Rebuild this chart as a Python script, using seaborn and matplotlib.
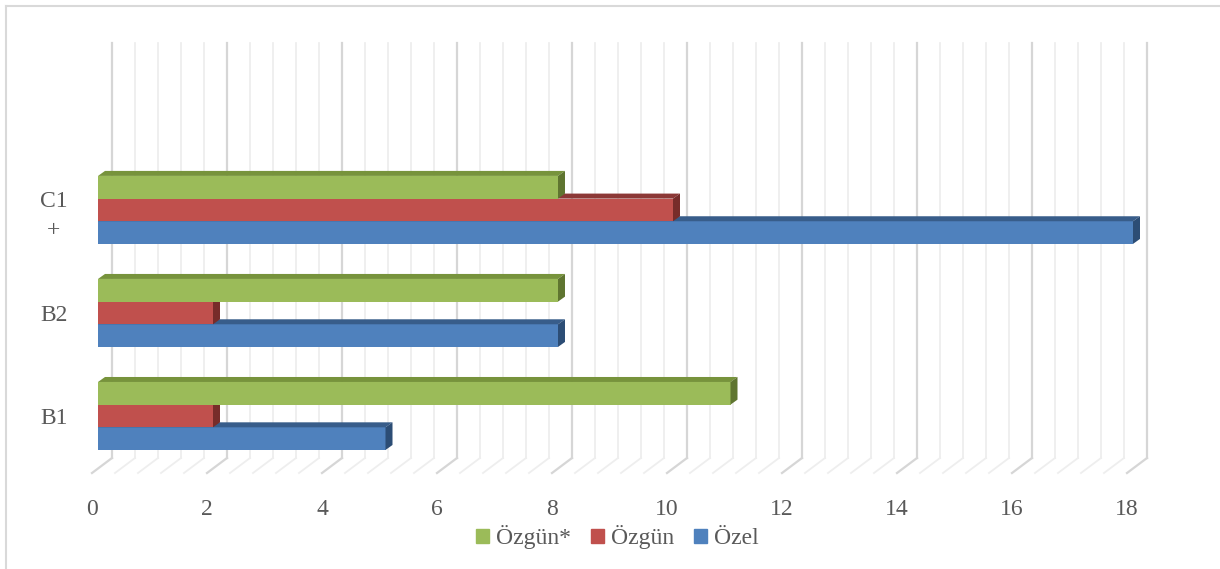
import numpy as np
import pandas as pd
import matplotlib
matplotlib.use("Agg")
import matplotlib.pyplot as plt
import seaborn as sns
from matplotlib.patches import Polygon
from matplotlib.lines import Line2D
import matplotlib.transforms as mtransforms

# data
levels = ["C1\n+", "B2", "B1"]
series = ["Özgün*", "Özgün", "Özel"]
ozgun_star = [8, 8, 11]
ozgun = [10, 2, 2]
ozel = [18, 8, 5]
xticks = [0, 2, 4, 6, 8, 10, 12, 14, 16, 18]

colors = {"Özgün*": "#9bbb59", "Özgün": "#c0504d", "Özel": "#4f81bd"}
top_shade = {"Özgün*": "#77933c", "Özgün": "#8c3836", "Özel": "#385d8a"}
side_shade = {"Özgün*": "#5f7530", "Özgün": "#772c2a", "Özel": "#2c4d75"}
layer = {"Özgün*": 4, "Özgün": 3, "Özel": 2}

df = pd.DataFrame({
    "level": levels * 3,
    "series": [series[0]] * 3 + [series[1]] * 3 + [series[2]] * 3,
    "value": ozgun_star + ozgun + ozel,
})

plt.rcParams["font.family"] = ["Liberation Serif", "DejaVu Serif"]
text_color = "#595959"

W, H = 1220, 569
fig = plt.figure(figsize=(W / 100, H / 100), dpi=100)
ax_left, ax_right, ax_top, ax_bot = 98, 1133, 43, 467.5
ax = fig.add_axes([ax_left / W, (H - ax_bot) / H, (ax_right - ax_left) / W, (ax_bot - ax_top) / H])

sns.barplot(data=df, x="value", y="level", hue="series", order=levels,
            hue_order=series, palette=colors, orient="h", width=0.66,
            saturation=1, ax=ax, legend=False)

ax.set_xlim(0, 18)
ax.set_ylim(2.5, -1.62)
for s in ax.spines.values():
    s.set_visible(False)
ax.set_xlabel("")
ax.set_ylabel("")
ax.set_xticks(xticks)
ax.set_xticklabels([str(t) for t in xticks])
ax.tick_params(axis="x", length=0, pad=23, labelsize=17, labelcolor=text_color)
ax.tick_params(axis="y", length=0, pad=22, labelsize=17, labelcolor=text_color)
for lab in ax.get_yticklabels():
    lab.set_multialignment("center")
    lab.set_linespacing(1.45)
shift = mtransforms.ScaledTranslation(-6 / 100, 0, fig.dpi_scale_trans)
for lab in ax.get_xticklabels():
    lab.set_transform(lab.get_transform() + shift)

# pixel -> data conversions (axes position and limits are fixed)
ppx = (ax_right - ax_left) / 18
ppy = (ax_bot - ax_top) / 4.12
back, front = 14 / ppx, -6 / ppx
yb_back = 9.5 / (ax_bot - ax_top)
yb_front = -5.5 / (ax_bot - ax_top)

# 3D-looking back wall grid and floor
xt = ax.get_xaxis_transform()
for i in range(46):
    x = i * 0.4
    major = i % 5 == 0
    c = "#d6d6d6" if major else "#eeeeee"
    lw = 1.6 if major else 1.3
    ax.add_line(Line2D([x + back, x + back], [yb_back, 1], transform=xt, color=c, lw=lw,
                       zorder=0, clip_on=False))
    ax.add_line(Line2D([x + back, x + front], [yb_back, yb_front], transform=xt, color=c,
                       lw=lw, zorder=0, clip_on=False))

# bar faces for the 3D look
dx, dy = 7 / ppx, 5 / ppy
for name, cont in zip(series, ax.containers):
    z = layer[name]
    for bar in cont:
        bar.set_zorder(z)
        bar.set_edgecolor("none")
        bar.set_clip_on(False)
        x0, y0 = bar.get_x(), bar.get_y()
        x1, y1 = x0 + bar.get_width(), y0 + bar.get_height()
        top = Polygon([[x0, y0], [x1, y0], [x1 + dx, y0 - dy], [x0 + dx, y0 - dy]],
                      closed=True, facecolor=top_shade[name], edgecolor="none",
                      zorder=z + 0.1, clip_on=False)
        side = Polygon([[x1, y0], [x1, y1], [x1 + dx, y1 - dy], [x1 + dx, y0 - dy]],
                       closed=True, facecolor=side_shade[name], edgecolor="none",
                       zorder=z + 0.1, clip_on=False)
        ax.add_patch(top)
        ax.add_patch(side)

handles = [plt.Rectangle((0, 0), 1, 1, color=colors[s]) for s in series]
fig.legend(handles, series, loc="center", bbox_to_anchor=(0.506, 1 - 537 / H), ncol=3,
           frameon=False, handlelength=0.55, handleheight=0.55, handletextpad=0.3,
           columnspacing=0.85, fontsize=17, labelcolor=text_color)

# chart border (top and left edges visible)
fig.add_artist(Line2D([5.5 / W, 1], [1 - 5.5 / H, 1 - 5.5 / H], transform=fig.transFigure, color="#d9d9d9", lw=1.5))
fig.add_artist(Line2D([5.5 / W, 5.5 / W], [0, 1 - 5.5 / H], transform=fig.transFigure, color="#d9d9d9", lw=1.5))

fig.savefig("out.png", dpi=100, facecolor="white")
